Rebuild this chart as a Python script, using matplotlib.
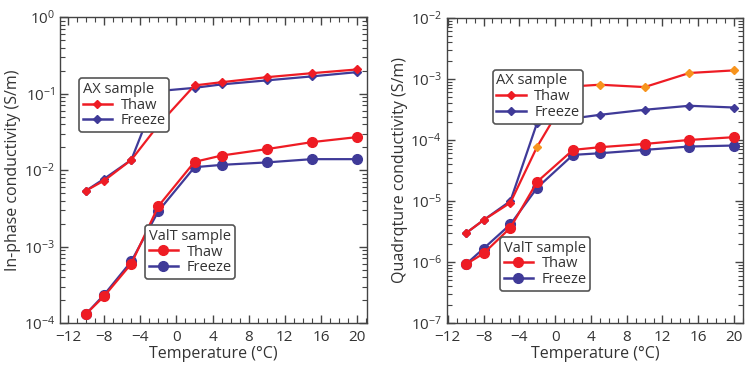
import matplotlib
matplotlib.use("Agg")
import matplotlib.pyplot as plt
from matplotlib.ticker import MultipleLocator, LogLocator, NullFormatter
from matplotlib.lines import Line2D

plt.rcParams['font.family'] = ['Open Sans', 'DejaVu Sans']

temps = [-10, -8, -5, -2, 2, 5, 10, 15, 20]

# In-phase conductivity (S/m)
ip_ax_thaw = [5.4e-3, 7.3e-3, 0.0136, 0.0388, 0.128, 0.141, 0.164, 0.185, 0.207]
ip_ax_freeze = [5.4e-3, 7.7e-3, 0.0136, 0.108, 0.119, 0.132, 0.149, 0.168, 0.191]
ip_valt_thaw = [1.32e-4, 2.25e-4, 5.97e-4, 3.38e-3, 0.0128, 0.0155, 0.0188, 0.0232, 0.027]
ip_valt_freeze = [1.32e-4, 2.35e-4, 6.4e-4, 2.91e-3, 0.0109, 0.0117, 0.0126, 0.0139, 0.0139]

# Quadrature conductivity (S/m)
q_ax_thaw = [2.94e-6, 4.86e-6, 9.36e-6, 7.8e-5, 7.54e-4, 8.03e-4, 7.35e-4, 1.25e-3, 1.38e-3]
q_ax_freeze = [2.94e-6, 4.86e-6, 9.97e-6, 1.93e-4, 2.25e-4, 2.58e-4, 3.12e-4, 3.63e-4, 3.4e-4]
q_valt_thaw = [9.1e-7, 1.38e-6, 3.64e-6, 2.07e-5, 6.87e-5, 7.6e-5, 8.6e-5, 1.0e-4, 1.11e-4]
q_valt_freeze = [9.1e-7, 1.66e-6, 4.13e-6, 1.65e-5, 5.69e-5, 6.05e-5, 6.87e-5, 7.8e-5, 8.1e-5]

xticks = [-12, -8, -4, 0, 4, 8, 12, 16, 20]

RED = '#ee1c24'
BLUE = '#3f3a98'
ORANGE = '#f7941d'
TXT = '#333333'

fig = plt.figure(figsize=(7.46, 3.65), dpi=100)
ax1 = fig.add_axes([0.0804, 0.115, 0.4115, 0.838])
ax2 = fig.add_axes([0.599, 0.115, 0.397, 0.836])


def style(ax, ylim, xlim, ylabel):
    ax.set_yscale('log')
    ax.set_ylim(*ylim)
    ax.set_xlim(*xlim)
    ax.set_xticks(xticks)
    ax.xaxis.set_minor_locator(MultipleLocator(1))
    ax.yaxis.set_major_locator(LogLocator(base=10, numticks=20))
    ax.yaxis.set_minor_locator(LogLocator(base=10, subs=range(2, 10), numticks=100))
    ax.yaxis.set_minor_formatter(NullFormatter())
    ax.tick_params(which='both', direction='in', top=True, right=True,
                   colors='#444444', labelcolor=TXT, labelsize=11)
    ax.tick_params(which='major', length=6, width=1)
    ax.tick_params(which='minor', length=3.5, width=0.8)
    ax.tick_params(axis='x', pad=5)
    for s in ax.spines.values():
        s.set_color('#444444')
        s.set_linewidth(1.0)
    ax.set_xlabel('Temperature (°C)', fontsize=11.5, color=TXT, labelpad=1)
    ax.set_ylabel(ylabel, fontsize=11.5, color=TXT, labelpad=2)


def add_legend(ax, title, marker, ms, loc):
    handles = [Line2D([], [], color=RED, marker=marker, ms=ms, lw=1.8),
               Line2D([], [], color=BLUE, marker=marker, ms=ms, lw=1.8)]
    leg = ax.legend(handles, ['Thaw', 'Freeze'], title=title, loc='upper left',
                    bbox_to_anchor=loc, fontsize=10.5, title_fontsize=10.5,
                    frameon=True, fancybox=True, framealpha=1, edgecolor='#555555',
                    handlelength=2.0, handletextpad=0.6, borderpad=0.25,
                    labelspacing=0.05, borderaxespad=0, alignment='left')
    leg.get_frame().set_linewidth(1.2)
    for t in leg.get_texts():
        t.set_color(TXT)
    leg.get_title().set_color(TXT)
    return leg


# Left panel
ax1.plot(temps, ip_ax_freeze, color=BLUE, marker='D', ms=4, lw=1.6)
ax1.plot(temps, ip_ax_thaw, color=RED, marker='D', ms=4, lw=1.6)
ax1.plot(temps, ip_valt_freeze, color=BLUE, marker='o', ms=7, lw=1.6)
ax1.plot(temps, ip_valt_thaw, color=RED, marker='o', ms=7, lw=1.6)
style(ax1, (1e-4, 1), (-12.9, 21.1), 'In-phase conductivity (S/m)')
l1 = add_legend(ax1, 'AX sample', 'D', 4, (0.062, 0.80))
ax1.add_artist(l1)
add_legend(ax1, 'ValT sample', 'o', 7, (0.277, 0.32))

# Right panel
ax2.plot(temps, q_ax_freeze, color=BLUE, marker='D', ms=4, lw=1.6)
ax2.plot(temps, q_ax_thaw, color=RED, lw=1.6)
ax2.plot(temps[:3], q_ax_thaw[:3], ls='none', marker='D', ms=4, color=RED)
ax2.plot(temps[3:], q_ax_thaw[3:], ls='none', marker='D', ms=4, color=ORANGE)
ax2.plot(temps, q_valt_freeze, color=BLUE, marker='o', ms=7, lw=1.6)
ax2.plot(temps, q_valt_thaw, color=RED, marker='o', ms=7, lw=1.6)
style(ax2, (1e-7, 1e-2), (-12.1, 21.0), 'Quadrqture conductivity (S/m)')
l2 = add_legend(ax2, 'AX sample', 'D', 4, (0.155, 0.83))
ax2.add_artist(l2)
add_legend(ax2, 'ValT sample', 'o', 7, (0.18, 0.282))

fig.savefig('out.png', dpi=100)
